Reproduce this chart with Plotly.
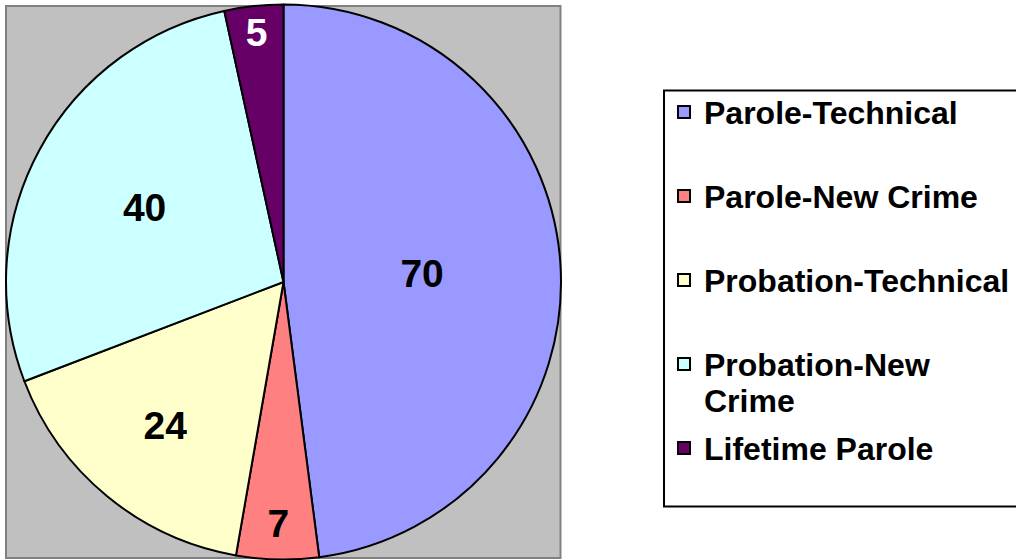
import plotly.graph_objects as go

# ---- data ----
categories = ["Parole-Technical", "Parole-New Crime", "Probation-Technical",
              "Probation-New Crime", "Lifetime Parole"]
values = [70, 7, 24, 40, 5]
slice_colors = ["#9999FF", "#FF8080", "#FFFFCC", "#CCFFFF", "#660066"]
label_colors = ["black", "black", "black", "black", "white"]
legend_lines = [["Parole-Technical"], ["Parole-New Crime"], ["Probation-Technical"],
                ["Probation-New", "Crime"], ["Lifetime Parole"]]

W, H = 1016, 560
FONT = "Liberation Sans, Arial, sans-serif"

# legend entries: 9 small base lines each; text on line 1, wrapped part 4 lines lower
NB = "\u00a0"
def legend_text(lines):
    rows = [NB] * 9
    rows[1] = "<span style='font-size:32px'>%s</span>" % lines[0]
    if len(lines) > 1:
        rows[5] = "<span style='font-size:32px'>%s</span>" % lines[1]
    return "<br>".join(rows)

legend_labels = [legend_text(l) for l in legend_lines]

def px(x):
    return x / W
def py(y):
    return 1 - y / H

fig = go.Figure(go.Pie(
    labels=legend_labels,
    values=values,
    customdata=categories,
    sort=False,
    direction="clockwise",
    rotation=0,
    marker=dict(colors=slice_colors, line=dict(color="black", width=2)),
    textinfo="value",
    textposition="inside",
    insidetextorientation="horizontal",
    textfont=dict(family=FONT, size=39, color=label_colors, weight="bold"),
    domain=dict(x=[px(6), px(561)], y=[py(559.5), py(4.5)]),
    hoverinfo="skip",
))

fig.update_layout(
    width=W, height=H,
    margin=dict(l=0, r=0, t=0, b=0),
    paper_bgcolor="white",
    plot_bgcolor="white",
    uniformtext=dict(minsize=39, mode="show"),
    showlegend=True,
    legend=dict(
        x=px(664), xanchor="left",
        y=py(101), yanchor="top",
        valign="top",
        bgcolor="rgba(0,0,0,0)",
        borderwidth=0,
        font=dict(family=FONT, size=9 / 1.3, color="black", weight="bold"),
        traceorder="normal",
    ),
    shapes=[
        dict(type="rect", xref="paper", yref="paper",
             x0=px(6), x1=px(560.5), y0=py(558), y1=py(6),
             fillcolor="#C0C0C0", line=dict(color="#808080", width=2), layer="below"),
        dict(type="rect", xref="paper", yref="paper",
             x0=px(664), x1=px(1030), y0=py(506.5), y1=py(90.5),
             fillcolor="rgba(0,0,0,0)", line=dict(color="black", width=2), layer="above"),
    ],
)

fig.write_html("out.html", config={"displayModeBar": False},
               post_script="document.body.style.margin='0';")
